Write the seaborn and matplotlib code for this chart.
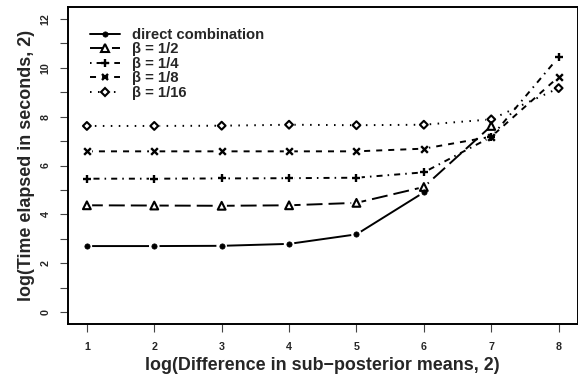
import numpy as np
import pandas as pd
import matplotlib
matplotlib.use("Agg")
import matplotlib.pyplot as plt
from matplotlib.lines import Line2D
import seaborn as sns

# ---- data ----
x_vals = [1, 2, 3, 4, 5, 6, 7, 8]
direct = [2.70, 2.70, 2.71, 2.79, 3.18, 4.90, np.nan, np.nan]
beta_2 = [4.37, 4.36, 4.35, 4.37, 4.47, 5.12, 7.62, np.nan]
beta_4 = [5.46, 5.46, 5.47, 5.48, 5.50, 5.72, 7.17, 10.44]
beta_8 = [6.58, 6.58, 6.58, 6.58, 6.58, 6.69, 7.18, 9.63]
beta_16 = [7.62, 7.62, 7.63, 7.67, 7.65, 7.67, 7.89, 9.17]
series_labels = ["direct combination", "\u03b2 = 1/2", "\u03b2 = 1/4",
                 "\u03b2 = 1/8", "\u03b2 = 1/16"]
x_ticks = [1, 2, 3, 4, 5, 6, 7, 8]
y_ticks = list(range(0, 13))
y_ticklabels = [str(v) if v % 2 == 0 else "" for v in y_ticks]
x_label = "log(Difference in sub\u2212posterior means, 2)"
y_label = "log(Time elapsed in seconds, 2)"

sns.set_style("white")
plt.rcParams["font.family"] = ["Liberation Sans", "DejaVu Sans"]
plt.rcParams["font.weight"] = "bold"

fig = plt.figure(figsize=(5.78, 3.80), dpi=100)
ax = fig.add_axes([68 / 578, (380 - 323.7) / 380, (577.5 - 68) / 578, (323.7 - 7.3) / 380])

lw = 1.4
styles = [
    dict(dash=None, marker="o", ms=3.8, filled=True, mew=0.5),
    dict(dash=(8.2, 3.1), marker="^", ms=5.6, filled=False, mew=1.5),
    dict(dash=(0.8, 2.6, 3.1, 2.6), marker="+", ms=5.8, filled=True, mew=1.7),
    dict(dash=(3.1, 3.1), marker="x", ms=4.8, filled=True, mew=1.7),
    dict(dash=(0.8, 3.3), marker="D", ms=4.0, filled=False, mew=1.5),
]
all_series = [direct, beta_2, beta_4, beta_8, beta_16]

handles = []
for vals, st, lab in zip(all_series, styles, series_labels):
    df = pd.DataFrame({"x": x_vals, "y": vals}).dropna()
    sns.lineplot(data=df, x="x", y="y", ax=ax, color="black", linewidth=lw,
                 sort=False, estimator=None, zorder=2)
    ln = ax.lines[-1]
    if st["dash"] is not None:
        ln.set_dashes(st["dash"])
    ln.set_dash_capstyle("butt")
    # white gaps around points (type = "b" look)
    sns.scatterplot(data=df, x="x", y="y", ax=ax, marker="o", s=58,
                    color="white", edgecolor="none", linewidth=0, zorder=3)
    mk_kw = dict(marker=st["marker"], s=st["ms"] ** 2, zorder=4)
    if st["marker"] in ("+", "x"):
        sns.scatterplot(data=df, x="x", y="y", ax=ax, color="black", linewidth=st["mew"], **mk_kw)
    elif st["filled"]:
        sns.scatterplot(data=df, x="x", y="y", ax=ax, color="black", edgecolor="black",
                        linewidth=st["mew"], **mk_kw)
    else:
        sns.scatterplot(data=df, x="x", y="y", ax=ax, facecolor="none", edgecolor="black",
                        linewidth=st["mew"], **mk_kw)
    h = Line2D([], [], color="black", linewidth=lw,
               marker=st["marker"], markersize=st["ms"],
               markerfacecolor=("black" if st["filled"] else "white"),
               markeredgecolor="black", markeredgewidth=st["mew"])
    if st["dash"] is not None:
        h.set_dashes(st["dash"])
    handles.append(h)

ax.set_xlim(0.72, 8.28)
ax.set_ylim(-0.48, 12.48)
ax.set_xticks(x_ticks)
ax.set_xticklabels([str(v) for v in x_ticks])
ax.set_yticks(y_ticks)
ax.set_yticklabels(y_ticklabels, rotation=90, va="center")
ax.tick_params(axis="both", which="major", direction="out", length=5.5, width=0.8,
               color="#444444", labelsize=7.7, left=True, bottom=True)
ax.tick_params(axis="x", pad=8.0)
ax.tick_params(axis="y", pad=7.0)
for lab in ax.get_xticklabels() + ax.get_yticklabels():
    lab.set_fontweight("bold")

for sp in ax.spines.values():
    sp.set_visible(True)
    sp.set_color("black")
    sp.set_linewidth(1.4)

ax.set_xlabel(x_label, fontsize=12.9, fontweight="bold", labelpad=3)
ax.set_ylabel(y_label, fontsize=12.9, fontweight="bold", labelpad=4)

leg = ax.legend(handles, series_labels, loc="upper left",
                bbox_to_anchor=((90 - 68) / 509.5, 1 - (28 - 7.3) / 316.4),
                frameon=False, handlelength=2.0, handletextpad=0.85,
                labelspacing=0.03, borderpad=0, borderaxespad=0,
                prop={"weight": "bold", "size": 10.7})

fig.savefig("out.png", dpi=100)
